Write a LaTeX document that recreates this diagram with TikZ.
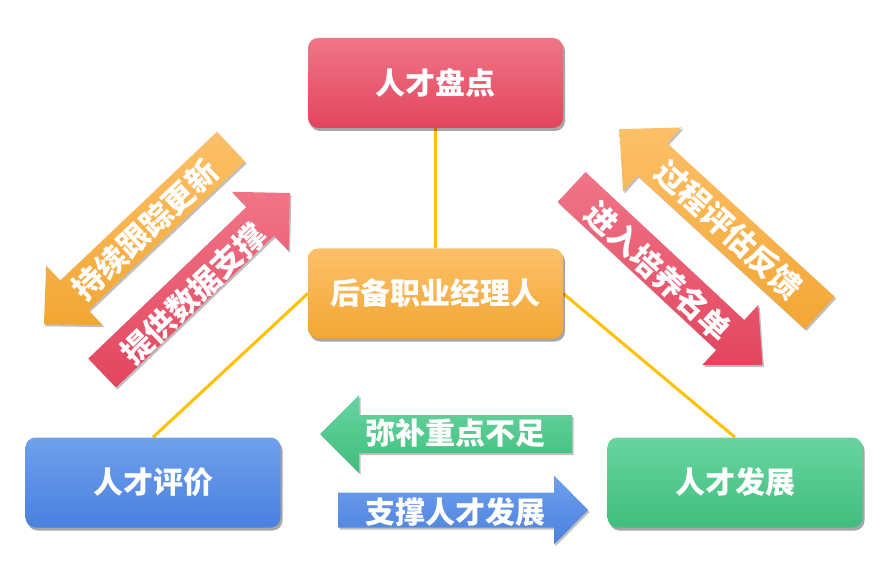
\documentclass[tikz,border=0pt]{standalone}
\usepackage{fontspec}
\setmainfont{Noto Sans CJK SC}
\usetikzlibrary{shadows,backgrounds}
\definecolor{redT}{HTML}{F07587}
\definecolor{redB}{HTML}{E2455E}
\definecolor{orgT}{HTML}{FDC068}
\definecolor{orgB}{HTML}{F2A634}
\definecolor{bluT}{HTML}{6FA0EC}
\definecolor{bluB}{HTML}{4A80DF}
\definecolor{grnT}{HTML}{68D4A0}
\definecolor{grnB}{HTML}{40BE7D}
\definecolor{linkY}{HTML}{FFC000}
\newcommand\fatarrow[7]{%
  \begin{scope}[shift={#1},rotate=#2]
    \path[#7] ({-#3/2},{-#4/2}) -- ({#3/2-#6},{-#4/2}) -- ({#3/2-#6},{-#5/2}) -- ({#3/2},0)
      -- ({#3/2-#6},{#5/2}) -- ({#3/2-#6},{#4/2}) -- ({-#3/2},{#4/2}) -- cycle;
  \end{scope}}
\tikzset{
  box/.style={rounded corners=10pt, minimum width=255pt, minimum height=90pt, inner sep=0pt,
    text=white, font=\bfseries\fontsize{30}{30}\selectfont,
    drop shadow={shadow xshift=2pt, shadow yshift=-3pt, opacity=0.35, fill=black}},
  lbl/.style={text=white, inner sep=0pt, font=\bfseries\fontsize{30}{30}\selectfont},
  dlbl/.style={text=white, inner sep=0pt, font=\bfseries\fontsize{31}{31}\selectfont},
  arr/.style={drop shadow={shadow xshift=1.5pt, shadow yshift=-2pt, opacity=0.25, fill=black}},
  link/.style={draw=linkY, line width=3pt}
}
\begin{document}
\begin{tikzpicture}[x=1pt,y=1pt]
\useasboundingbox (0,0) rectangle (893,579);
% boxes
\node[box, top color=redT, bottom color=redB] (pd) at (435.5,496) {人才盘点};
\node[box, top color=orgT, bottom color=orgB] (hb) at (435.5,285.5) {后备职业经理人};
\node[box, top color=bluT, bottom color=bluB] (pj) at (153,96.5) {人才评价};
\node[box, top color=grnT, bottom color=grnB] (fz) at (735,96.5) {人才发展};
% links
\begin{scope}[on background layer]
\draw[link] (pd.south) -- (hb.north);
\draw[link] (hb.west) -- (pj.north);
\draw[link] (hb.east) -- (fz.north);
\end{scope}
% diagonal arrows
\fatarrow{(137.5,343.5)}{223.5}{258}{41}{82}{42}{arr, top color=orgT, bottom color=orgB}
\fatarrow{(196,296)}{43.8}{260}{40}{82}{41}{arr, top color=redT, bottom color=redB}
\fatarrow{(719.5,358)}{137.5}{272}{44}{87}{45}{arr, top color=orgT, bottom color=orgB}
\fatarrow{(667,303)}{-43}{261}{41}{82}{44}{arr, top color=redT, bottom color=redB}
% horizontal arrows
\fatarrow{(446,145)}{180}{252}{38}{78}{39}{arr, top color=grnT, bottom color=grnB}
\fatarrow{(463,69)}{0}{250}{35}{69}{34}{arr, top color=bluT, bottom color=bluB}
% arrow labels
\node[dlbl, rotate=43.5] (ta) at (145,349) {持续跟踪更新};
\node[dlbl, rotate=43.8] (tb) at (193.5,285) {提供数据支撑};
\node[dlbl, rotate=-42.5] (tc) at (729,349) {过程评估反馈};
\node[dlbl, rotate=-43] (td) at (658.5,307.5) {进入培养名单};
\node[lbl] (te) at (455,146) {弥补重点不足};
\node[lbl] (tf) at (455,67) {支撑人才发展};
\end{tikzpicture}
\end{document}
